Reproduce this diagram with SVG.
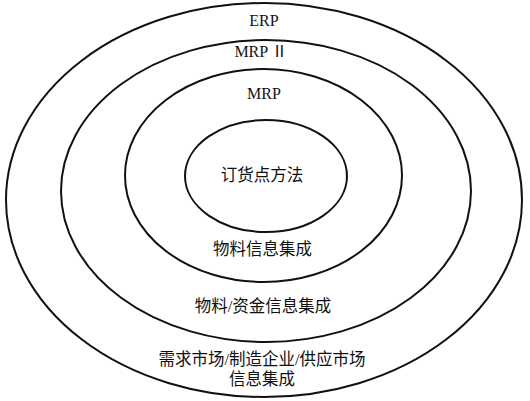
<svg xmlns="http://www.w3.org/2000/svg" width="530" height="401" viewBox="0 0 530 401">
<style>
.ring{fill:none;stroke:#111;stroke-width:2}
.lat{font-family:"Liberation Serif","Noto Sans CJK SC",serif;font-size:16px;fill:#111;text-anchor:middle}
.cjk{font-family:"Liberation Serif","Noto Sans CJK SC",serif;font-size:16.5px;fill:#111;text-anchor:middle}
</style>
<rect width="530" height="401" fill="#fff"/>
<g id="erp">
<ellipse class="ring" cx="264" cy="200" rx="258" ry="197"/>
<text class="lat" x="264" y="26">ERP</text>
<text class="cjk" x="262" y="365">需求市场/制造企业/供应市场</text>
<text class="cjk" x="262" y="385">信息集成</text>
</g>
<g id="mrp2">
<ellipse class="ring" cx="266" cy="191" rx="205" ry="151"/>
<text class="lat" x="261" y="57">MRP Ⅱ</text>
<text class="cjk" x="263" y="312">物料/资金信息集成</text>
</g>
<g id="mrp">
<ellipse class="ring" cx="263.5" cy="175.5" rx="138.5" ry="106.5"/>
<text class="lat" x="264" y="99">MRP</text>
<text class="cjk" x="262.5" y="255">物料信息集成</text>
</g>
<g id="rop">
<ellipse class="ring" cx="266" cy="176" rx="81" ry="56"/>
<text class="cjk" x="262" y="181">订货点方法</text>
</g>
<g id="connectors"/>
</svg>
